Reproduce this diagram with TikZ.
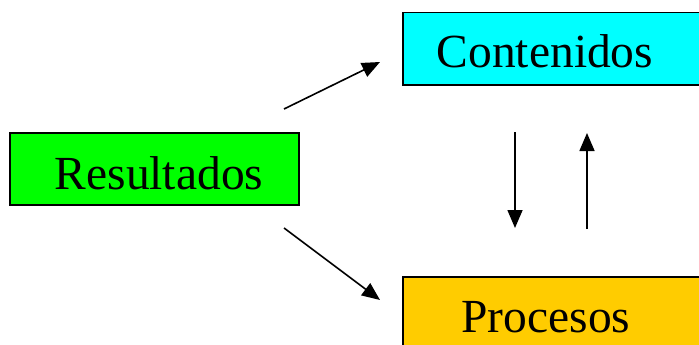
\documentclass[tikz,border=0pt]{standalone}
\usepackage{fontspec}
\setmainfont{Liberation Serif}
\usetikzlibrary{arrows.meta}

\begin{document}
\begin{tikzpicture}[x=1pt, y=-1pt,
  box/.style={draw=black, line width=1.6pt, inner sep=0pt},
  lbl/.style={anchor=base, inner sep=0pt, font=\fontsize{47.5}{57}\selectfont},
  link/.style={line width=1.6pt, -{Triangle[length=18pt, width=15pt]}}]
\useasboundingbox (0,0) rectangle (699,345);
\clip (0,0) rectangle (699,345);
\node[box, fill={rgb,255:red,0;green,255;blue,0}, minimum width=289pt, minimum height=72pt] (res) at (154.5,169) {};
\node[lbl] (restxt) at (159,189) {Resultados};
\node[box, fill={rgb,255:red,0;green,255;blue,255}, minimum width=307pt, minimum height=72.5pt] (cont) at (556.5,48.75) {};
\node[lbl] (conttxt) at (545,68) {Contenidos};
\node[box, fill={rgb,255:red,255;green,204;blue,0}, minimum width=307pt, minimum height=72pt] (proc) at (556.5,313) {};
\node[lbl] (proctxt) at (546,332) {Procesos};
\coordinate (a1) at (284,109);
\coordinate (a2) at (380,62);
\coordinate (b1) at (284,228);
\coordinate (b2) at (380,300);
\coordinate (c1) at (515,132);
\coordinate (c2) at (515,228);
\coordinate (d1) at (587,229);
\coordinate (d2) at (587,133);
\draw[link] (a1) -- (a2);
\draw[link] (b1) -- (b2);
\draw[link] (c1) -- (c2);
\draw[link] (d1) -- (d2);
\end{tikzpicture}
\end{document}
